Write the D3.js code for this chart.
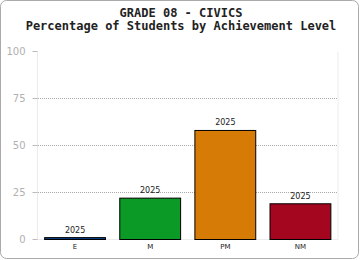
<!DOCTYPE html>
<html>
<head>
<meta charset="utf-8">
<script src="https://cdn.jsdelivr.net/npm/d3@7"></script>
<style>
  body { margin: 0; background: #fff; }
  svg { display: block; }
</style>
</head>
<body>
<div id="chart"></div>
<script>
// Chart data
const levels = ["E", "M", "PM", "NM"];
const percents = [1, 22, 58, 19];
const barLabels = ["2025", "2025", "2025", "2025"];
const colors = ["#0b3f8c", "#0b9a25", "#d77b07", "#a5061f"];
const yTicks = [0, 25, 50, 75, 100];
const titleLines = ["GRADE 08 - CIVICS", "Percentage of Students by Achievement Level"];

const width = 360, height = 260;
const plotLeft = 37.5, plotRight = 338, plotTop = 51.5, plotBottom = 239.5;

const svg = d3.select("#chart").append("svg")
  .attr("width", width)
  .attr("height", height);

// outer frame
svg.append("rect")
  .attr("x", 0.5).attr("y", 0.5)
  .attr("width", 358).attr("height", 258)
  .attr("rx", 6).attr("ry", 6)
  .attr("fill", "#fff")
  .attr("stroke", "#aaa");

// title
svg.selectAll("text.title")
  .data(titleLines)
  .enter().append("text")
  .attr("class", "title")
  .attr("x", 181)
  .attr("y", (d, i) => 17 + i * 13)
  .attr("text-anchor", "middle")
  .attr("font-family", "DejaVu Sans Mono")
  .attr("font-weight", "bold")
  .attr("font-size", "12px")
  .attr("fill", "#222")
  .text(d => d);

const x = d3.scaleBand()
  .domain(levels)
  .range([plotLeft, plotRight])
  .paddingInner(0.19)
  .paddingOuter(0.095);

const y = d3.scaleLinear()
  .domain([0, 100])
  .range([plotBottom, plotTop]);

// plot frame lines
svg.append("line")
  .attr("x1", plotLeft).attr("x2", plotLeft)
  .attr("y1", plotTop).attr("y2", plotBottom)
  .attr("stroke", "#ececec");
svg.append("line")
  .attr("x1", plotRight).attr("x2", plotRight)
  .attr("y1", plotTop).attr("y2", plotBottom)
  .attr("stroke", "#ececec");
svg.append("line")
  .attr("x1", plotLeft).attr("x2", plotRight)
  .attr("y1", plotBottom).attr("y2", plotBottom)
  .attr("stroke", "#ececec");

// dotted gridlines
svg.selectAll("line.grid")
  .data(yTicks.filter(t => t > 0 && t < 100))
  .enter().append("line")
  .attr("class", "grid")
  .attr("x1", Math.ceil(plotLeft)).attr("x2", Math.floor(plotRight))
  .attr("y1", d => y(d)).attr("y2", d => y(d))
  .attr("stroke", "#aaa")
  .attr("stroke-dasharray", "1,1");

// y axis
const yAxis = svg.append("g")
  .attr("transform", `translate(${plotLeft},-0.5)`)
  .call(d3.axisLeft(y).tickValues(yTicks).tickSize(5).tickPadding(7));
yAxis.select(".domain").remove();
yAxis.selectAll(".tick line").attr("stroke", "#bbb");
yAxis.selectAll(".tick text")
  .attr("fill", "#b0b0b0")
  .attr("font-family", "DejaVu Sans")
  .attr("font-size", "10px");

// bars
svg.selectAll("rect.bar")
  .data(levels)
  .enter().append("rect")
  .attr("class", "bar")
  .attr("x", d => x(d))
  .attr("y", (d, i) => y(percents[i]))
  .attr("width", x.bandwidth())
  .attr("height", (d, i) => y(0) - y(percents[i]))
  .attr("fill", (d, i) => colors[i])
  .attr("stroke", "#000")
  .attr("stroke-width", 1);

// bar labels
svg.selectAll("text.val")
  .data(levels)
  .enter().append("text")
  .attr("class", "val")
  .attr("x", d => x(d) + x.bandwidth() / 2)
  .attr("y", (d, i) => y(percents[i]) - 5)
  .attr("text-anchor", "middle")
  .attr("font-family", "DejaVu Sans")
  .attr("font-size", "8px")
  .attr("fill", "#222")
  .text((d, i) => barLabels[i]);

// x axis labels
const xAxis = svg.append("g")
  .attr("transform", `translate(0,${plotBottom})`)
  .call(d3.axisBottom(x).tickSize(0).tickPadding(5));
xAxis.select(".domain").remove();
xAxis.selectAll(".tick text")
  .attr("fill", "#222")
  .attr("font-family", "DejaVu Sans")
  .attr("font-size", "7px");
</script>
</body>
</html>
